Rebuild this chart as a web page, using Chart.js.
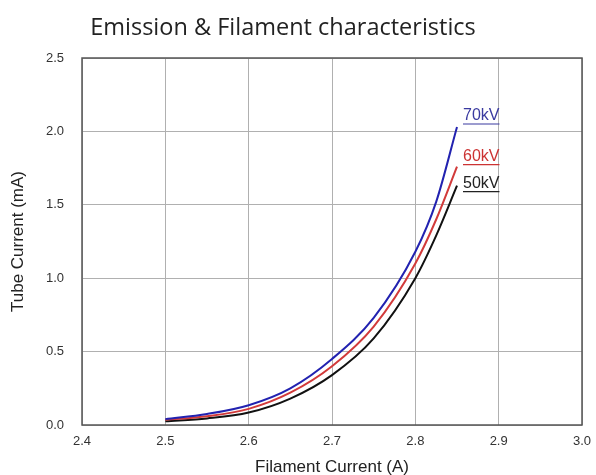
<!DOCTYPE html>
<html>
<head>
<meta charset="utf-8">
<script src="https://cdn.jsdelivr.net/npm/chart.js@4/dist/chart.umd.min.js"></script>
<style>
  html, body { margin: 0; padding: 0; background: #fff; }
  #wrap { width: 596px; height: 475px; }
</style>
</head>
<body>
<div id="wrap"><canvas id="emission"></canvas></div>
<script>
// filament current (A)
const filament = [2.5, 2.55, 2.6, 2.65, 2.7, 2.75, 2.8, 2.825, 2.85];
// tube current (mA) per tube voltage
const tube70 = [0.04, 0.075, 0.135, 0.25, 0.45, 0.73, 1.18, 1.52, 2.03];
const tube60 = [0.035, 0.06, 0.11, 0.22, 0.40, 0.67, 1.10, 1.40, 1.76];
const tube50 = [0.025, 0.045, 0.085, 0.18, 0.34, 0.59, 1.00, 1.29, 1.63];
const seriesNames = ["70kV", "60kV", "50kV"];
const xTicks = [2.4, 2.5, 2.6, 2.7, 2.8, 2.9, 3.0];
const yTicks = [0.0, 0.5, 1.0, 1.5, 2.0, 2.5];
const chartTitle = "Emission & Filament characteristics";

const toPoints = vals => vals.map((v, i) => ({ x: filament[i], y: v }));

// title + frame around the plot
const frame = {
  id: "frame",
  afterDraw(chart) {
    const { ctx, chartArea: a } = chart;
    ctx.save();
    ctx.strokeStyle = "#555";
    ctx.lineWidth = 1.5;
    ctx.strokeRect(a.left, a.top, a.right - a.left, a.bottom - a.top);
    ctx.fillStyle = "#222";
    ctx.font = "23.5px 'Open Sans', sans-serif";
    ctx.textAlign = "center";
    ctx.textBaseline = "alphabetic";
    ctx.fillText(chartTitle, 283, 35);
    ctx.restore();
  }
};

// underlined series names at the end of each curve
const endLabels = {
  id: "endLabels",
  afterDatasetsDraw(chart) {
    const { ctx } = chart;
    const offsets = [-11, -10, -2];
    ctx.save();
    ctx.font = "16px 'Liberation Sans', Arial, sans-serif";
    ctx.textBaseline = "middle";
    chart.data.datasets.forEach((ds, i) => {
      const meta = chart.getDatasetMeta(i);
      const last = meta.data[meta.data.length - 1];
      const x = last.x + 6;
      const y = last.y + offsets[i];
      ctx.fillStyle = ds.labelColor;
      ctx.fillText(ds.label, x, y);
      const w = ctx.measureText(ds.label).width;
      ctx.strokeStyle = ds.labelColor;
      ctx.lineWidth = 1.2;
      ctx.beginPath();
      ctx.moveTo(x, y + 8);
      ctx.lineTo(x + w, y + 8);
      ctx.stroke();
    });
    ctx.restore();
  }
};

const lineStyle = {
  borderWidth: 2,
  pointRadius: 0,
  fill: false,
  cubicInterpolationMode: "monotone"
};

new Chart(document.getElementById("emission"), {
  type: "line",
  data: {
    datasets: [
      { ...lineStyle, label: seriesNames[0], data: toPoints(tube70), borderColor: "#2222b0", labelColor: "#3a3aa0" },
      { ...lineStyle, label: seriesNames[1], data: toPoints(tube60), borderColor: "#d23a3a", labelColor: "#cc3333" },
      { ...lineStyle, label: seriesNames[2], data: toPoints(tube50), borderColor: "#111111", labelColor: "#222222" }
    ]
  },
  options: {
    responsive: true,
    maintainAspectRatio: false,
    animation: false,
    layout: { padding: { left: 0, right: 14, top: 58, bottom: 0 } },
    plugins: {
      legend: { display: false },
      tooltip: { enabled: false },
      title: { display: false }
    },
    scales: {
      x: {
        type: "linear",
        min: 2.4,
        max: 3.0,
        afterBuildTicks: s => { s.ticks = xTicks.map(v => ({ value: v })); },
        afterFit: s => { s.height = 50; s.paddingLeft = 0; s.paddingRight = 0; },
        grid: { color: "#b0b0b0", lineWidth: 1, drawTicks: false },
        border: { display: false },
        ticks: {
          padding: 9,
          color: "#333",
          font: { family: "'Liberation Sans', Arial, sans-serif", size: 13 },
          callback: v => v.toFixed(1)
        },
        title: {
          display: true,
          text: "Filament Current (A)",
          color: "#222",
          font: { family: "'Liberation Sans', Arial, sans-serif", size: 17 },
          padding: { top: 0, bottom: -3 }
        }
      },
      y: {
        min: 0,
        max: 2.5,
        afterBuildTicks: s => { s.ticks = yTicks.map(v => ({ value: v })); },
        afterFit: s => { s.width = 82; s.paddingTop = 0; s.paddingBottom = 0; },
        grid: { color: "#b0b0b0", lineWidth: 1, drawTicks: false },
        border: { display: false },
        ticks: {
          padding: 18,
          color: "#333",
          font: { family: "'Liberation Sans', Arial, sans-serif", size: 13 },
          callback: v => v.toFixed(1)
        },
        title: {
          display: true,
          text: "Tube Current (mA)",
          color: "#222",
          font: { family: "'Liberation Sans', Arial, sans-serif", size: 17 },
          padding: { top: 8, bottom: 0 }
        }
      }
    }
  },
  plugins: [frame, endLabels]
});
</script>
</body>
</html>
